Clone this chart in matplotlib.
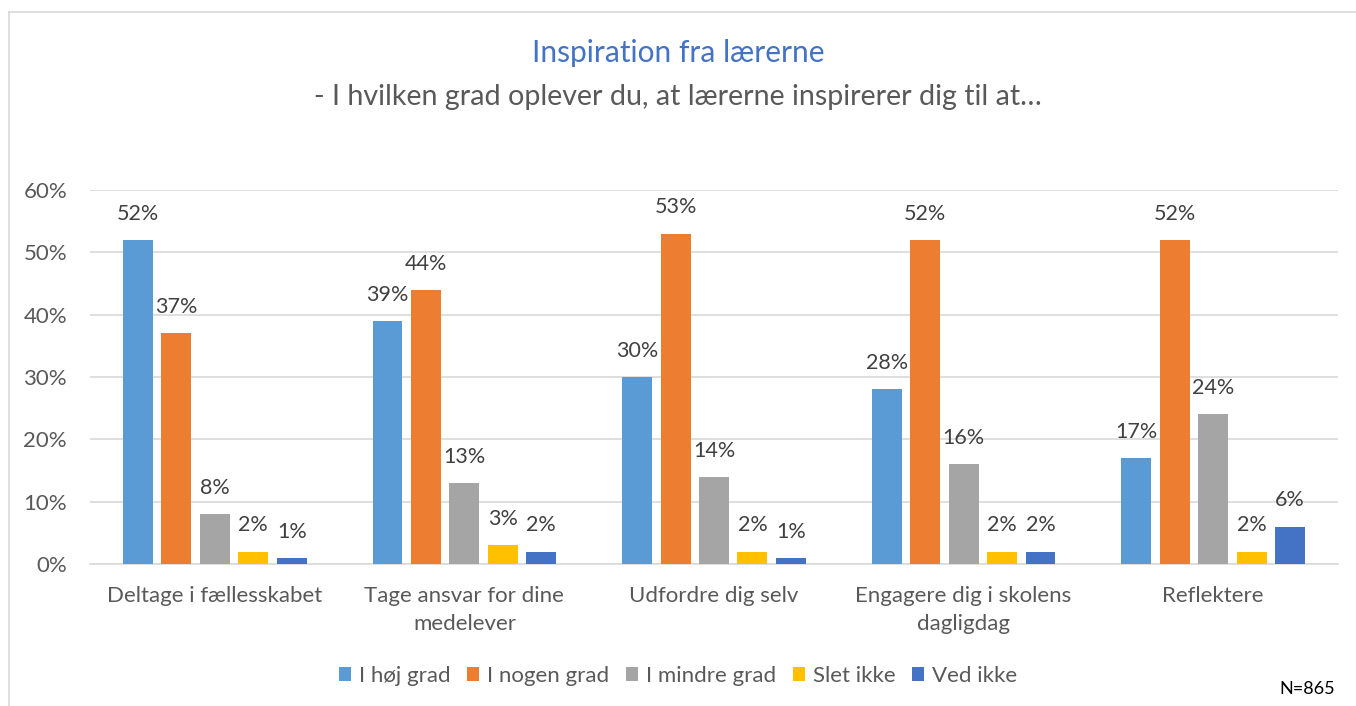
import matplotlib
matplotlib.use("Agg")
import matplotlib.pyplot as plt
from matplotlib.lines import Line2D
import numpy as np

categories = ["Deltage i fællesskabet", "Tage ansvar for dine\nmedelever", "Udfordre dig selv",
              "Engagere dig i skolens\ndagligdag", "Reflektere"]
series_names = ["I høj grad", "I nogen grad", "I mindre grad", "Slet ikke", "Ved ikke"]
hoej = [52, 39, 30, 28, 17]
nogen = [37, 44, 53, 52, 52]
mindre = [8, 13, 14, 16, 24]
slet = [2, 3, 2, 2, 2]
ved = [1, 2, 1, 2, 6]
yticks = [0, 10, 20, 30, 40, 50, 60]
colors = ["#5B9BD5", "#ED7D31", "#A5A5A5", "#FFC000", "#4472C4"]

plt.rcParams['font.family'] = ['Lato', 'DejaVu Sans']

fig = plt.figure(figsize=(13.56, 7.06), dpi=100)
W, H = 1356, 706
ax = fig.add_axes([90 / W, 1 - 564 / H, (1338 - 90) / W, (564 - 190) / H])

series = [hoej, nogen, mindre, slet, ved]
x = np.arange(len(categories))
step = 0.154
width = 0.12
for i, (vals, name, c) in enumerate(zip(series, series_names, colors)):
    pos = x + (i - 2) * step
    ax.bar(pos, vals, width=width, color=c, label=name, zorder=3)
    for xp, v in zip(pos, vals):
        ax.text(xp, v + 4.2, f"{v}%", ha="center", va="center", fontsize=15.5, color="#404040")

ax.set_xlim(-0.5, len(categories) - 0.5)
ax.set_ylim(0, 60)
ax.set_yticks(yticks)
ax.set_yticklabels([f"{t}%" for t in yticks], fontsize=16, color="#595959")
ax.set_xticks(x)
ax.set_xticklabels(categories, fontsize=16, color="#595959", linespacing=1.5, va="top")
ax.tick_params(axis="both", length=0)
ax.tick_params(axis="x", pad=15.5)
ax.tick_params(axis="y", pad=16.5)
ax.grid(axis="y", color="#D9D9D9", linewidth=1.2, zorder=0)
for s in ["top", "right", "left"]:
    ax.spines[s].set_visible(False)
ax.spines["bottom"].set_color("#D9D9D9")
ax.spines["bottom"].set_linewidth(1.2)

fig.text(0.5, 1 - 53 / H, "Inspiration fra lærerne", ha="center", va="center", fontsize=21.5, color="#4472C4")
fig.text(0.5, 1 - 97 / H, "- I hvilken grad oplever du, at lærerne inspirerer dig til at…", ha="center",
         va="center", fontsize=20.6, color="#595959")

leg = fig.legend(loc="center", bbox_to_anchor=(0.5, 1 - 676 / H), ncol=5, frameon=False, fontsize=16,
                 handlelength=0.55, handleheight=0.55, handletextpad=0.35, columnspacing=0.75)
for t in leg.get_texts():
    t.set_color("#595959")

fig.text(1307 / W, 1 - 689 / H, "N=865", ha="center", va="center", fontsize=13, color="black")

fig.add_artist(Line2D([9 / W, 9 / W], [0, 1 - 12 / H], transform=fig.transFigure, color="#D9D9D9", lw=1.2))
fig.add_artist(Line2D([9 / W, 1], [1 - 12 / H, 1 - 12 / H], transform=fig.transFigure, color="#D9D9D9", lw=1.2))

fig.savefig("out.png", dpi=100)
